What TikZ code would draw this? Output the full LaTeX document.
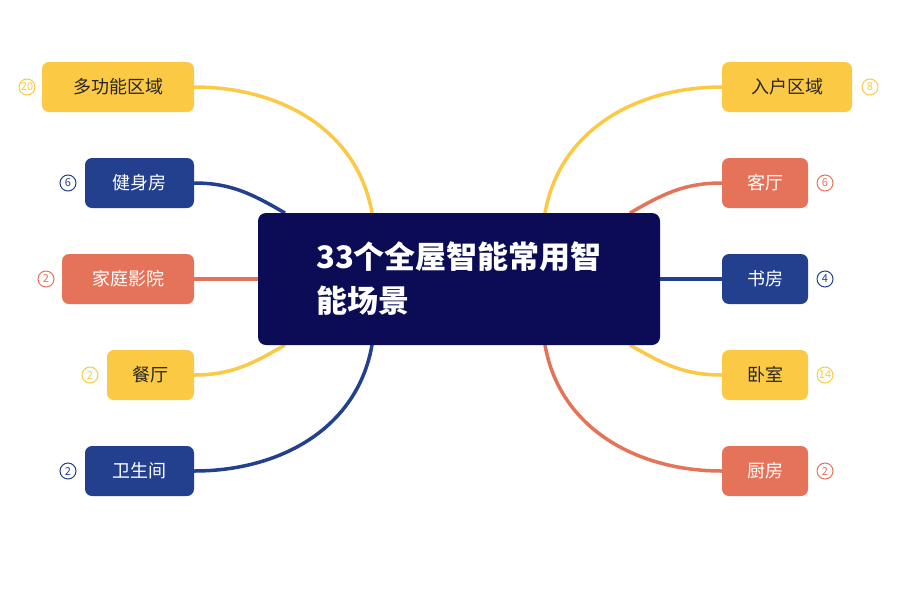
\documentclass[tikz,border=0pt]{standalone}
\usepackage{fontspec}
\setmainfont{Noto Sans CJK SC}
\begin{document}
\begin{tikzpicture}[x=1pt,y=-1pt,
 box/.style={rounded corners=7pt,minimum height=50pt,font=\fontsize{18}{20}\selectfont,inner sep=0pt},
 yb/.style={box,fill=cy,text=black!85},
 bb/.style={box,fill=cb,text=white},
 ob/.style={box,fill=co,text=white},
 badge/.style={circle,draw=#1,line width=1pt,text=#1,minimum size=16pt,inner sep=0pt,font=\fontsize{11}{11}\selectfont},
 lk/.style={line width=3.5pt,draw=#1}]
\definecolor{cy}{HTML}{FCC944}
\definecolor{cb}{HTML}{23408E}
\definecolor{co}{HTML}{E4735A}
\definecolor{cn}{HTML}{0B0C55}
\useasboundingbox[fill=white] (0,0) rectangle (912,600);
\coordinate (l1) at (372,213); \coordinate (l2) at (285,213); \coordinate (l3) at (258,279);
\coordinate (l4) at (285,345); \coordinate (l5) at (372,345);
\coordinate (r1) at (545,213); \coordinate (r2) at (630,213); \coordinate (r3) at (660,279);
\coordinate (r4) at (630,345); \coordinate (r5) at (545,345);
\node[yb,minimum width=152pt] (a1) at (118,87) {多功能区域};
\node[bb,minimum width=109pt] (a2) at (139.5,183) {健身房};
\node[ob,minimum width=132pt] (a3) at (128,279) {家庭影院};
\node[yb,minimum width=87pt] (a4) at (150.5,375) {餐厅};
\node[bb,minimum width=109pt] (a5) at (139.5,471) {卫生间};
\node[yb,minimum width=130pt] (b1) at (787,87) {入户区域};
\node[ob,minimum width=86pt] (b2) at (765,183) {客厅};
\node[bb,minimum width=86pt] (b3) at (765,279) {书房};
\node[yb,minimum width=86pt] (b4) at (765,375) {卧室};
\node[ob,minimum width=86pt] (b5) at (765,471) {厨房};
\draw[lk=cy] (l1) to[out=100,in=0] (a1.east);
\draw[lk=cb] (l2) to[out=150,in=0] (a2.east);
\draw[lk=co] (l3) -- (a3.east);
\draw[lk=cy] (l4) to[out=210,in=0] (a4.east);
\draw[lk=cb] (l5) to[out=260,in=0] (a5.east);
\draw[lk=cy] (r1) to[out=80,in=180] (b1.west);
\draw[lk=co] (r2) to[out=30,in=180] (b2.west);
\draw[lk=cb] (r3) -- (b3.west);
\draw[lk=cy] (r4) to[out=-30,in=180] (b4.west);
\draw[lk=co] (r5) to[out=-80,in=180] (b5.west);
\node[fill=cn,rounded corners=8pt,minimum width=402pt,minimum height=132pt,text=white,align=left,font=\fontsize{31}{44}\selectfont\bfseries] (c) at (459,279) {33个全屋智能常用智\\能场景};
\node[badge=cy] (n1) at (27,87) {20};
\node[badge=cb] (n2) at (68,183) {6};
\node[badge=co] (n3) at (46,279) {2};
\node[badge=cy] (n4) at (90,375) {2};
\node[badge=cb] (n5) at (68,471) {2};
\node[badge=cy] (m1) at (870,87) {8};
\node[badge=co] (m2) at (825,183) {6};
\node[badge=cb] (m3) at (825,279) {4};
\node[badge=cy] (m4) at (825,375) {14};
\node[badge=co] (m5) at (825,471) {2};
\end{tikzpicture}
\end{document}
